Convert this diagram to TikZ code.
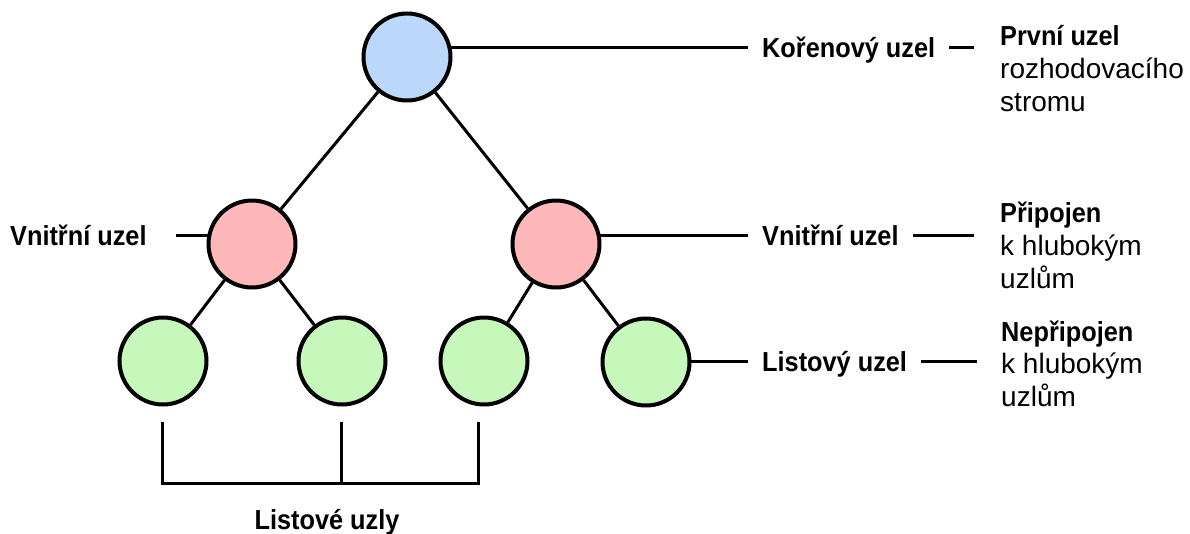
\documentclass[tikz,border=0pt]{standalone}
\usepackage{fontspec}
\setmainfont{Liberation Sans}
\newfontfamily\tagfont{Liberation Sans}[FakeStretch=0.92]
\usetikzlibrary{backgrounds}
\definecolor{rootblue}{RGB}{187,216,250}
\definecolor{innerpink}{RGB}{255,184,186}
\definecolor{leafgreen}{RGB}{199,248,187}
\begin{document}
\begin{tikzpicture}[x=1pt,y=-1pt,
  treenode/.style={circle,draw=black,line width=4pt,minimum size=87pt,inner sep=0pt},
  link/.style={line width=3pt},
  tag/.style={font=\tagfont\fontsize{27.5}{32}\selectfont\bfseries,text height=20pt,text depth=0pt,inner ysep=0pt,inner xsep=14pt},
  headline/.style={font=\tagfont\fontsize{27.5}{32}\selectfont\bfseries,anchor=base west,inner sep=0pt},
  bodyline/.style={font=\fontsize{28}{33}\selectfont,anchor=base west,inner sep=0pt}]
\useasboundingbox (0,0) rectangle (1190,533);

% tree nodes
\node[treenode,fill=rootblue]  (root) at (407,57)  {};
\node[treenode,fill=innerpink] (inL)  at (252,244) {};
\node[treenode,fill=innerpink] (inR)  at (556,244) {};
\node[treenode,fill=leafgreen] (lf1)  at (163,361) {};
\node[treenode,fill=leafgreen] (lf2)  at (342,361) {};
\node[treenode,fill=leafgreen] (lf3)  at (484,361) {};
\node[treenode,fill=leafgreen] (lf4)  at (646,362) {};

% labels pointing at the nodes
\node[tag,anchor=west] (rootTag)  at (748,47)  {Kořenový uzel};
\node[tag,anchor=west] (innerTag) at (748,235) {Vnitřní uzel};
\node[tag,anchor=west] (leafTag)  at (748,361) {Listový uzel};
\node[tag,anchor=west] (leftTag)  at (-4,235)  {Vnitřní uzel};

% descriptions
\node[headline] (rootHead)  at (1000,45)  {První uzel};
\node[bodyline] (rootBodyA) at (1000,78)  {rozhodovacího};
\node[bodyline] (rootBodyB) at (1000,111) {stromu};
\node[headline] (innerHead)  at (1000,222) {Připojen};
\node[bodyline] (innerBodyA) at (1000,255) {k hlubokým};
\node[bodyline] (innerBodyB) at (1000,288) {uzlům};
\node[headline] (leafHead)  at (1001,341) {Nepřipojen};
\node[bodyline] (leafBodyA) at (1001,373) {k hlubokým};
\node[bodyline] (leafBodyB) at (1001,406) {uzlům};

% group caption under the bracket
\node[headline,anchor=base] (leafGroup) at (327,529) {Listové uzly};

% bracket end points
\coordinate (brA) at (162,422);
\coordinate (brB) at (341,422);
\coordinate (brC) at (478,422);
\coordinate (bkA) at (162,483);
\coordinate (bkB) at (341,483);
\coordinate (bkC) at (478,483);

\begin{scope}[on background layer]
  % tree edges
  \draw[link] (root) -- (inL);
  \draw[link] (root) -- (inR);
  \draw[link] (inL) -- (lf1);
  \draw[link] (inL) -- (lf2);
  \draw[link] (inR) -- (lf3);
  \draw[link] (inR) -- (lf4);
  % leader lines to the labels
  \draw[link] (root.center |- rootTag.west) -- (rootTag.west);
  \draw[link] (inR.center |- innerTag.west) -- (innerTag.west);
  \draw[link] (lf4.center |- leafTag.west) -- (leafTag.west);
  \draw[link,shorten <=15pt] (leftTag.east) -- (inL.center |- leftTag.east);
\end{scope}

% short dashes between labels and descriptions
\draw[link,shorten >=26pt] (rootTag.east) -- (rootTag.east -| rootHead.west);
\draw[link,shorten >=26pt] (innerTag.east) -- (innerTag.east -| innerHead.west);
\draw[link,shorten >=24pt] (leafTag.east) -- (leafTag.east -| leafHead.west);

% bracket grouping the leaves
\draw[link] (brA) -- (bkA) -- (bkC) -- (brC);
\draw[link] (brB) -- (bkB);
\end{tikzpicture}
\end{document}
